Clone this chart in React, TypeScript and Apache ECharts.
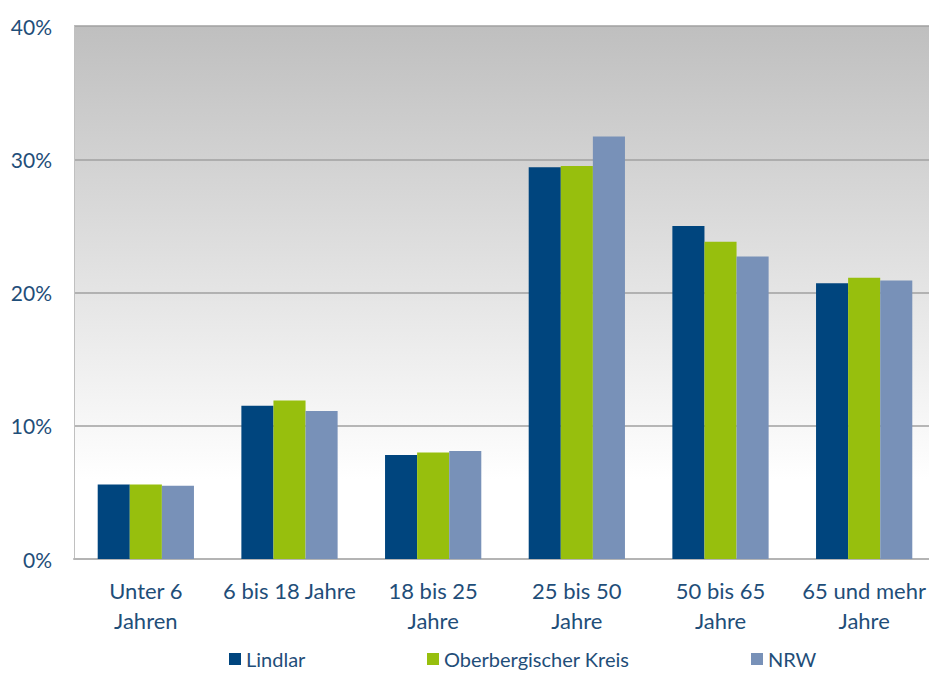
import React, { useEffect, useRef } from "react";
import * as echarts from "echarts";

const categories = ["Unter 6\nJahren", "6 bis 18 Jahre", "18 bis 25\nJahre", "25 bis 50\nJahre", "50 bis 65\nJahre", "65 und mehr\nJahre"];
const lindlar = [5.6, 11.5, 7.8, 29.4, 25.0, 20.7];
const oberberg = [5.6, 11.9, 8.0, 29.5, 23.8, 21.1];
const nrw = [5.5, 11.1, 8.1, 31.7, 22.7, 20.9];
const seriesNames = ["Lindlar", "Oberbergischer Kreis", "NRW"];
const colors = ["#00457e", "#97bf0d", "#7891b8"];
const legendLeft = [229, 427, 751];

const FONT = "Lato";
const TEXT = "#1f4e79";

export default function App() {
  const ref = useRef<HTMLDivElement>(null);
  useEffect(() => {
    if (!ref.current) return;
    const chart = echarts.init(ref.current, undefined, { renderer: "svg" });
    const data = [lindlar, oberberg, nrw];
    chart.setOption({
      animation: false,
      textStyle: { fontFamily: FONT },
      grid: {
        left: 74,
        right: 4,
        top: 26,
        bottom: 118,
        show: true,
        borderWidth: 0,
        backgroundColor: {
          type: "linear",
          x: 0, y: 0, x2: 0, y2: 1,
          colorStops: [
            { offset: 0, color: "#bfbfbf" },
            { offset: 0.85, color: "#ffffff" },
            { offset: 1, color: "#ffffff" },
          ],
        },
      },
      legend: seriesNames.map((n, i) => ({
        data: [n],
        left: legendLeft[i],
        top: 648,
        padding: 0,
        itemWidth: 12,
        itemHeight: 12,
        itemGap: 0,
        itemTextGap: 5,
        icon: "rect",
        textStyle: { color: TEXT, fontSize: 20, lineHeight: 22, fontFamily: FONT },
      })),
      xAxis: {
        type: "category",
        data: categories,
        axisLine: { show: true, lineStyle: { color: "#b4b4b4", width: 2 } },
        axisTick: { show: false },
        axisLabel: {
          color: TEXT,
          fontSize: 22,
          lineHeight: 30,
          margin: 16,
          interval: 0,
          fontFamily: FONT,
        },
      },
      yAxis: {
        type: "value",
        min: 0,
        max: 40,
        interval: 10,
        axisLine: { show: true, lineStyle: { color: "#c0c0c0", width: 1 } },
        axisTick: { show: false },
        splitLine: { lineStyle: { color: "#a0a0a0", width: 1.5 } },
        axisLabel: {
          formatter: "{value}%",
          color: TEXT,
          fontSize: 21,
          margin: 22,
          fontFamily: FONT,
        },
      },
      series: seriesNames.map((n, i) => ({
        name: n,
        type: "bar",
        data: data[i],
        barGap: "0%",
        barCategoryGap: "33%",
        itemStyle: { color: colors[i] },
      })),
    });
    return () => chart.dispose();
  }, []);
  return (
    <div style={{ position: "fixed", left: 0, top: 0, width: 929, height: 677, overflow: "hidden", background: "#fff" }}>
      <div ref={ref} style={{ width: 940, height: 677 }} />
    </div>
  );
}
